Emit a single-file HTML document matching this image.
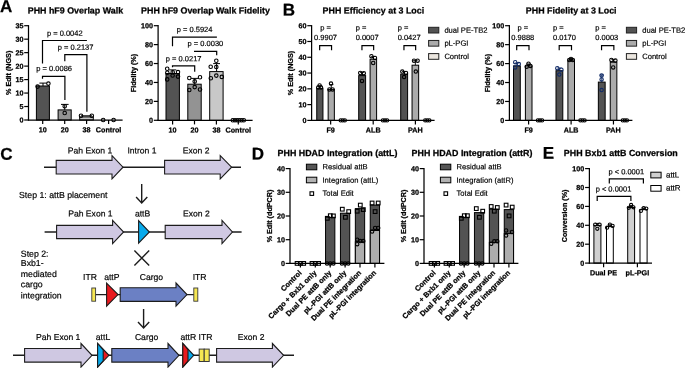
<!DOCTYPE html>
<html><head><meta charset="utf-8"><title>Figure</title>
<style>html,body{margin:0;padding:0;background:#fff}svg{display:block;font-family:"Liberation Sans",sans-serif}</style></head>
<body><svg width="685" height="368" viewBox="0 0 685 368" style="font-family:&quot;Liberation Sans&quot;,sans-serif">
<rect width="685" height="368" fill="#fff"/>
<text x="0.1" y="12" font-size="17" font-weight="bold" stroke="#000" stroke-width="0.25" text-anchor="start" fill="#000" transform="rotate(0.03 0.1 12)">A</text>
<text x="282.7" y="15.5" font-size="17" font-weight="bold" stroke="#000" stroke-width="0.25" text-anchor="start" fill="#000" transform="rotate(0.03 282.7 15.5)">B</text>
<text x="0.2" y="159.8" font-size="17" font-weight="bold" stroke="#000" stroke-width="0.25" text-anchor="start" fill="#000" transform="rotate(0.03 0.2 159.8)">C</text>
<text x="251.7" y="159.5" font-size="17" font-weight="bold" stroke="#000" stroke-width="0.25" text-anchor="start" fill="#000" transform="rotate(0.03 251.7 159.5)">D</text>
<text x="542.7" y="158.8" font-size="17" font-weight="bold" stroke="#000" stroke-width="0.25" text-anchor="start" fill="#000" transform="rotate(0.03 542.7 158.8)">E</text>
<text x="75.4" y="13.5" font-size="8.9" font-weight="bold" stroke="#000" stroke-width="0.25" text-anchor="middle" fill="#000" transform="rotate(0.03 75.4 13.5)">PHH hF9 Overlap Walk</text>
<rect x="36.4" y="86" width="13.0" height="34" fill="#535353" stroke="#000" stroke-width="1.0"/>
<rect x="58.1" y="109.9" width="13.100000000000001" height="10.1" fill="#939393" stroke="#000" stroke-width="1.0"/>
<rect x="79.7" y="116.9" width="13.599999999999994" height="3.1" fill="#c4c4c4" stroke="#000" stroke-width="1.0"/>
<line x1="39.4" y1="83.1" x2="46.6" y2="83.1" stroke="#000" stroke-width="1.0" stroke-linecap="butt"/>
<line x1="43" y1="83.1" x2="43" y2="86" stroke="#000" stroke-width="1.0" stroke-linecap="butt"/>
<line x1="61" y1="104.4" x2="68.6" y2="104.4" stroke="#000" stroke-width="1.0" stroke-linecap="butt"/>
<line x1="64.7" y1="104.4" x2="64.7" y2="109.8" stroke="#000" stroke-width="1.0" stroke-linecap="butt"/>
<circle cx="37.6" cy="86.6" r="1.75" fill="none" stroke="#000" stroke-width="1.1"/>
<circle cx="48.4" cy="83.6" r="1.75" fill="none" stroke="#000" stroke-width="1.1"/>
<circle cx="64.7" cy="106.2" r="1.75" fill="none" stroke="#000" stroke-width="1.1"/>
<circle cx="64.7" cy="113" r="1.75" fill="none" stroke="#000" stroke-width="1.1"/>
<line x1="81" y1="115.8" x2="92" y2="115.8" stroke="#000" stroke-width="1.0" stroke-linecap="butt"/>
<circle cx="81" cy="115.8" r="1.75" fill="none" stroke="#000" stroke-width="1.1"/>
<circle cx="91.8" cy="115.7" r="1.75" fill="none" stroke="#000" stroke-width="1.1"/>
<circle cx="103.2" cy="120" r="1.75" fill="none" stroke="#000" stroke-width="1.1"/>
<circle cx="113.6" cy="120" r="1.75" fill="none" stroke="#000" stroke-width="1.1"/>
<line x1="28.5" y1="25.099999999999998" x2="28.5" y2="120.6" stroke="#000" stroke-width="1.25" stroke-linecap="butt"/>
<line x1="27.9" y1="120" x2="122.6" y2="120" stroke="#000" stroke-width="1.25" stroke-linecap="butt"/>
<line x1="24.200000000000003" y1="25.7" x2="28.5" y2="25.7" stroke="#000" stroke-width="1.2" stroke-linecap="butt"/>
<text x="23.400000000000002" y="28.25" font-size="7.2" font-weight="bold" stroke="#000" stroke-width="0.25" text-anchor="end" fill="#000" transform="rotate(0.03 23.400000000000002 28.25)">35</text>
<line x1="24.200000000000003" y1="39.17142857142857" x2="28.5" y2="39.17142857142857" stroke="#000" stroke-width="1.2" stroke-linecap="butt"/>
<text x="23.400000000000002" y="41.72" font-size="7.2" font-weight="bold" stroke="#000" stroke-width="0.25" text-anchor="end" fill="#000" transform="rotate(0.03 23.400000000000002 41.72)">30</text>
<line x1="24.200000000000003" y1="52.64285714285714" x2="28.5" y2="52.64285714285714" stroke="#000" stroke-width="1.2" stroke-linecap="butt"/>
<text x="23.400000000000002" y="55.19" font-size="7.2" font-weight="bold" stroke="#000" stroke-width="0.25" text-anchor="end" fill="#000" transform="rotate(0.03 23.400000000000002 55.19)">25</text>
<line x1="24.200000000000003" y1="66.11428571428571" x2="28.5" y2="66.11428571428571" stroke="#000" stroke-width="1.2" stroke-linecap="butt"/>
<text x="23.400000000000002" y="68.66" font-size="7.2" font-weight="bold" stroke="#000" stroke-width="0.25" text-anchor="end" fill="#000" transform="rotate(0.03 23.400000000000002 68.66)">20</text>
<line x1="24.200000000000003" y1="79.58571428571429" x2="28.5" y2="79.58571428571429" stroke="#000" stroke-width="1.2" stroke-linecap="butt"/>
<text x="23.400000000000002" y="82.14" font-size="7.2" font-weight="bold" stroke="#000" stroke-width="0.25" text-anchor="end" fill="#000" transform="rotate(0.03 23.400000000000002 82.14)">15</text>
<line x1="24.200000000000003" y1="93.05714285714286" x2="28.5" y2="93.05714285714286" stroke="#000" stroke-width="1.2" stroke-linecap="butt"/>
<text x="23.400000000000002" y="95.61" font-size="7.2" font-weight="bold" stroke="#000" stroke-width="0.25" text-anchor="end" fill="#000" transform="rotate(0.03 23.400000000000002 95.61)">10</text>
<line x1="24.200000000000003" y1="106.52857142857142" x2="28.5" y2="106.52857142857142" stroke="#000" stroke-width="1.2" stroke-linecap="butt"/>
<text x="23.400000000000002" y="109.08" font-size="7.2" font-weight="bold" stroke="#000" stroke-width="0.25" text-anchor="end" fill="#000" transform="rotate(0.03 23.400000000000002 109.08)">5</text>
<line x1="24.200000000000003" y1="120.0" x2="28.5" y2="120.0" stroke="#000" stroke-width="1.2" stroke-linecap="butt"/>
<text x="23.400000000000002" y="122.55" font-size="7.2" font-weight="bold" stroke="#000" stroke-width="0.25" text-anchor="end" fill="#000" transform="rotate(0.03 23.400000000000002 122.55)">0</text>
<text x="10.6" y="72.85" font-size="7.2" font-weight="bold" stroke="#000" stroke-width="0.25" text-anchor="middle" fill="#000" transform="rotate(-90 10.6 72.85)">% Edit (NGS)</text>
<line x1="42.7" y1="120" x2="42.7" y2="124.1" stroke="#000" stroke-width="1.2" stroke-linecap="butt"/>
<text x="42.7" y="132.3" font-size="7.2" font-weight="bold" stroke="#000" stroke-width="0.25" text-anchor="middle" fill="#000" transform="rotate(0.03 42.7 132.3)">10</text>
<line x1="64.7" y1="120" x2="64.7" y2="124.1" stroke="#000" stroke-width="1.2" stroke-linecap="butt"/>
<text x="64.7" y="132.3" font-size="7.2" font-weight="bold" stroke="#000" stroke-width="0.25" text-anchor="middle" fill="#000" transform="rotate(0.03 64.7 132.3)">20</text>
<line x1="86.6" y1="120" x2="86.6" y2="124.1" stroke="#000" stroke-width="1.2" stroke-linecap="butt"/>
<text x="86.6" y="132.3" font-size="7.2" font-weight="bold" stroke="#000" stroke-width="0.25" text-anchor="middle" fill="#000" transform="rotate(0.03 86.6 132.3)">38</text>
<line x1="108.6" y1="120" x2="108.6" y2="124.1" stroke="#000" stroke-width="1.2" stroke-linecap="butt"/>
<text x="108.6" y="132.3" font-size="7.2" font-weight="bold" stroke="#000" stroke-width="0.25" text-anchor="middle" fill="#000" transform="rotate(0.03 108.6 132.3)">Control</text>
<text x="64.8" y="35.7" font-size="7.5" stroke="#000" stroke-width="0.18" text-anchor="middle" fill="#000" transform="rotate(0.03 64.8 35.7)">p = 0.0042</text>
<text x="75.6" y="49.7" font-size="7.5" stroke="#000" stroke-width="0.18" text-anchor="middle" fill="#000" transform="rotate(0.03 75.6 49.7)">p = 0.2137</text>
<text x="54.2" y="71.1" font-size="7.5" stroke="#000" stroke-width="0.18" text-anchor="middle" fill="#000" transform="rotate(0.03 54.2 71.1)">p = 0.0086</text>
<path d="M42.5,63.4 V40.5 H86.9" stroke="#000" stroke-width="1.2" fill="none" stroke-linejoin="miter"/>
<path d="M64.8,61.3 V54.7 H86.9 V111.8" stroke="#000" stroke-width="1.2" fill="none" stroke-linejoin="miter"/>
<path d="M42.5,78.8 V76.4 H64.9 V100" stroke="#000" stroke-width="1.2" fill="none" stroke-linejoin="miter"/>
<text x="205.5" y="13.5" font-size="8.9" font-weight="bold" stroke="#000" stroke-width="0.25" text-anchor="middle" fill="#000" transform="rotate(0.03 205.5 13.5)">PHH hF9 Overlap Walk Fidelity</text>
<rect x="166" y="73.5" width="13.400000000000006" height="46.8" fill="#535353" stroke="#000" stroke-width="1.0"/>
<rect x="187.8" y="84.2" width="13.399999999999977" height="36.1" fill="#939393" stroke="#000" stroke-width="1.0"/>
<rect x="209.7" y="71.6" width="13.400000000000006" height="48.7" fill="#c8c8c8" stroke="#000" stroke-width="1.0"/>
<line x1="172.7" y1="69.9" x2="172.7" y2="73.5" stroke="#000" stroke-width="1.0" stroke-linecap="butt"/>
<line x1="169.1" y1="69.9" x2="176.29999999999998" y2="69.9" stroke="#000" stroke-width="1.0" stroke-linecap="butt"/>
<line x1="194.7" y1="78.4" x2="194.7" y2="84.2" stroke="#000" stroke-width="1.0" stroke-linecap="butt"/>
<line x1="191.1" y1="78.4" x2="198.29999999999998" y2="78.4" stroke="#000" stroke-width="1.0" stroke-linecap="butt"/>
<line x1="216.6" y1="63.6" x2="216.6" y2="71.6" stroke="#000" stroke-width="1.0" stroke-linecap="butt"/>
<line x1="213.2" y1="63.6" x2="220.0" y2="63.6" stroke="#000" stroke-width="1.0" stroke-linecap="butt"/>
<circle cx="167.2" cy="68.8" r="1.75" fill="none" stroke="#000" stroke-width="1.1"/>
<circle cx="167.3" cy="72.8" r="1.75" fill="none" stroke="#000" stroke-width="1.1"/>
<circle cx="172.7" cy="72.3" r="1.75" fill="none" stroke="#000" stroke-width="1.1"/>
<circle cx="178" cy="72.1" r="1.75" fill="none" stroke="#000" stroke-width="1.1"/>
<circle cx="172.6" cy="75.5" r="1.75" fill="none" stroke="#000" stroke-width="1.1"/>
<circle cx="178" cy="76.6" r="1.75" fill="none" stroke="#000" stroke-width="1.1"/>
<circle cx="167.2" cy="79.4" r="1.75" fill="none" stroke="#000" stroke-width="1.1"/>
<circle cx="189.3" cy="78" r="1.75" fill="none" stroke="#000" stroke-width="1.1"/>
<circle cx="200" cy="77.3" r="1.75" fill="none" stroke="#000" stroke-width="1.1"/>
<circle cx="194.7" cy="81.4" r="1.75" fill="none" stroke="#000" stroke-width="1.1"/>
<circle cx="194.7" cy="87.1" r="1.75" fill="none" stroke="#000" stroke-width="1.1"/>
<circle cx="189.3" cy="90" r="1.75" fill="none" stroke="#000" stroke-width="1.1"/>
<circle cx="200" cy="89.5" r="1.75" fill="none" stroke="#000" stroke-width="1.1"/>
<circle cx="216.3" cy="60.8" r="1.75" fill="none" stroke="#000" stroke-width="1.1"/>
<circle cx="210.7" cy="66.7" r="1.75" fill="none" stroke="#000" stroke-width="1.1"/>
<circle cx="216.3" cy="67" r="1.75" fill="none" stroke="#000" stroke-width="1.1"/>
<circle cx="210.8" cy="78.2" r="1.75" fill="none" stroke="#000" stroke-width="1.1"/>
<circle cx="216.3" cy="75.6" r="1.75" fill="none" stroke="#000" stroke-width="1.1"/>
<circle cx="221.8" cy="76.9" r="1.75" fill="none" stroke="#000" stroke-width="1.1"/>
<circle cx="232.8" cy="120.3" r="1.75" fill="none" stroke="#000" stroke-width="1.1"/>
<circle cx="235" cy="120.3" r="1.75" fill="none" stroke="#000" stroke-width="1.1"/>
<circle cx="237.2" cy="120.3" r="1.75" fill="none" stroke="#000" stroke-width="1.1"/>
<circle cx="239.4" cy="120.3" r="1.75" fill="none" stroke="#000" stroke-width="1.1"/>
<circle cx="241.6" cy="120.3" r="1.75" fill="none" stroke="#000" stroke-width="1.1"/>
<circle cx="243.8" cy="120.3" r="1.75" fill="none" stroke="#000" stroke-width="1.1"/>
<line x1="158.1" y1="25.099999999999998" x2="158.1" y2="120.89999999999999" stroke="#000" stroke-width="1.25" stroke-linecap="butt"/>
<line x1="157.5" y1="120.3" x2="252.6" y2="120.3" stroke="#000" stroke-width="1.25" stroke-linecap="butt"/>
<line x1="153.79999999999998" y1="25.7" x2="158.1" y2="25.7" stroke="#000" stroke-width="1.2" stroke-linecap="butt"/>
<text x="153.0" y="28.25" font-size="7.2" font-weight="bold" stroke="#000" stroke-width="0.25" text-anchor="end" fill="#000" transform="rotate(0.03 153.0 28.25)">100</text>
<line x1="153.79999999999998" y1="44.62" x2="158.1" y2="44.62" stroke="#000" stroke-width="1.2" stroke-linecap="butt"/>
<text x="153.0" y="47.17" font-size="7.2" font-weight="bold" stroke="#000" stroke-width="0.25" text-anchor="end" fill="#000" transform="rotate(0.03 153.0 47.17)">80</text>
<line x1="153.79999999999998" y1="63.53999999999999" x2="158.1" y2="63.53999999999999" stroke="#000" stroke-width="1.2" stroke-linecap="butt"/>
<text x="153.0" y="66.09" font-size="7.2" font-weight="bold" stroke="#000" stroke-width="0.25" text-anchor="end" fill="#000" transform="rotate(0.03 153.0 66.09)">60</text>
<line x1="153.79999999999998" y1="82.46" x2="158.1" y2="82.46" stroke="#000" stroke-width="1.2" stroke-linecap="butt"/>
<text x="153.0" y="85.01" font-size="7.2" font-weight="bold" stroke="#000" stroke-width="0.25" text-anchor="end" fill="#000" transform="rotate(0.03 153.0 85.01)">40</text>
<line x1="153.79999999999998" y1="101.38" x2="158.1" y2="101.38" stroke="#000" stroke-width="1.2" stroke-linecap="butt"/>
<text x="153.0" y="103.93" font-size="7.2" font-weight="bold" stroke="#000" stroke-width="0.25" text-anchor="end" fill="#000" transform="rotate(0.03 153.0 103.93)">20</text>
<line x1="153.79999999999998" y1="120.3" x2="158.1" y2="120.3" stroke="#000" stroke-width="1.2" stroke-linecap="butt"/>
<text x="153.0" y="122.85" font-size="7.2" font-weight="bold" stroke="#000" stroke-width="0.25" text-anchor="end" fill="#000" transform="rotate(0.03 153.0 122.85)">0</text>
<text x="136.2" y="73.0" font-size="7.2" font-weight="bold" stroke="#000" stroke-width="0.25" text-anchor="middle" fill="#000" transform="rotate(-90 136.2 73.0)">Fidelity (%)</text>
<line x1="172.6" y1="120.3" x2="172.6" y2="124.39999999999999" stroke="#000" stroke-width="1.2" stroke-linecap="butt"/>
<text x="172.6" y="132.5" font-size="7.2" font-weight="bold" stroke="#000" stroke-width="0.25" text-anchor="middle" fill="#000" transform="rotate(0.03 172.6 132.5)">10</text>
<line x1="194.5" y1="120.3" x2="194.5" y2="124.39999999999999" stroke="#000" stroke-width="1.2" stroke-linecap="butt"/>
<text x="194.5" y="132.5" font-size="7.2" font-weight="bold" stroke="#000" stroke-width="0.25" text-anchor="middle" fill="#000" transform="rotate(0.03 194.5 132.5)">20</text>
<line x1="216.4" y1="120.3" x2="216.4" y2="124.39999999999999" stroke="#000" stroke-width="1.2" stroke-linecap="butt"/>
<text x="216.4" y="132.5" font-size="7.2" font-weight="bold" stroke="#000" stroke-width="0.25" text-anchor="middle" fill="#000" transform="rotate(0.03 216.4 132.5)">38</text>
<line x1="238.3" y1="120.3" x2="238.3" y2="124.39999999999999" stroke="#000" stroke-width="1.2" stroke-linecap="butt"/>
<text x="238.3" y="132.5" font-size="7.2" font-weight="bold" stroke="#000" stroke-width="0.25" text-anchor="middle" fill="#000" transform="rotate(0.03 238.3 132.5)">Control</text>
<text x="194.6" y="32" font-size="7.5" stroke="#000" stroke-width="0.18" text-anchor="middle" fill="#000" transform="rotate(0.03 194.6 32)">p = 0.5924</text>
<text x="205.4" y="46" font-size="7.5" stroke="#000" stroke-width="0.18" text-anchor="middle" fill="#000" transform="rotate(0.03 205.4 46)">p = 0.0030</text>
<text x="183.7" y="61.3" font-size="7.5" stroke="#000" stroke-width="0.18" text-anchor="middle" fill="#000" transform="rotate(0.03 183.7 61.3)">p = 0.0217</text>
<path d="M172.5,46.3 V37.1 H216.9" stroke="#000" stroke-width="1.2" fill="none" stroke-linejoin="miter"/>
<path d="M194,51.3 H216.7 V55.3" stroke="#000" stroke-width="1.2" fill="none" stroke-linejoin="miter"/>
<path d="M172.5,67.2 V65.9 H194.7 V71.8" stroke="#000" stroke-width="1.2" fill="none" stroke-linejoin="miter"/>
<text x="373.4" y="13.5" font-size="8.9" font-weight="bold" stroke="#000" stroke-width="0.25" text-anchor="middle" fill="#000" transform="rotate(0.03 373.4 13.5)">PHH Efficiency at 3 Loci</text>
<line x1="319.85" y1="85.8" x2="319.85" y2="88.4" stroke="#000" stroke-width="0.9" stroke-linecap="butt"/>
<line x1="317.65000000000003" y1="85.8" x2="322.05" y2="85.8" stroke="#000" stroke-width="0.9" stroke-linecap="butt"/>
<line x1="331.25" y1="84.6" x2="331.25" y2="89.4" stroke="#000" stroke-width="0.9" stroke-linecap="butt"/>
<line x1="329.05" y1="84.6" x2="333.45" y2="84.6" stroke="#000" stroke-width="0.9" stroke-linecap="butt"/>
<rect x="316.75" y="88.4" width="6.199999999999989" height="32.0" fill="#535353" stroke="#000" stroke-width="1.0"/>
<rect x="328.15" y="89.4" width="6.199999999999989" height="31.0" fill="#ababab" stroke="#000" stroke-width="1.0"/>
<circle cx="318.2" cy="87.6" r="1.7" fill="none" stroke="#000" stroke-width="1.1"/>
<circle cx="319.6" cy="85.4" r="1.7" fill="none" stroke="#000" stroke-width="1.1"/>
<circle cx="321" cy="87.4" r="1.7" fill="none" stroke="#000" stroke-width="1.1"/>
<circle cx="331" cy="83.6" r="1.7" fill="none" stroke="#000" stroke-width="1.1"/>
<circle cx="329.4" cy="89.4" r="1.7" fill="none" stroke="#000" stroke-width="1.1"/>
<circle cx="332.6" cy="89.4" r="1.7" fill="none" stroke="#000" stroke-width="1.1"/>
<circle cx="340.65" cy="120.4" r="1.6" fill="none" stroke="#000" stroke-width="1.1"/>
<circle cx="342.75" cy="120.4" r="1.6" fill="none" stroke="#000" stroke-width="1.1"/>
<circle cx="344.85" cy="120.4" r="1.6" fill="none" stroke="#000" stroke-width="1.1"/>
<line x1="330.65" y1="120.4" x2="330.65" y2="124.5" stroke="#000" stroke-width="1.2" stroke-linecap="butt"/>
<text x="330.65" y="132.5" font-size="7.2" font-weight="bold" stroke="#000" stroke-width="0.25" text-anchor="middle" fill="#000" transform="rotate(0.03 330.65 132.5)">F9</text>
<text x="325.55" y="30.3" font-size="7.5" stroke="#000" stroke-width="0.18" text-anchor="middle" fill="#000" transform="rotate(0.03 325.55 30.3)">p =</text>
<text x="325.55" y="40" font-size="7.5" stroke="#000" stroke-width="0.18" text-anchor="middle" fill="#000" transform="rotate(0.03 325.55 40)">0.9907</text>
<path d="M319.65,50.2 V45.7 H331.55 V50.2" stroke="#000" stroke-width="1.2" fill="none" stroke-linejoin="miter"/>
<line x1="362.15" y1="72.4" x2="362.15" y2="75.6" stroke="#000" stroke-width="0.9" stroke-linecap="butt"/>
<line x1="359.95" y1="72.4" x2="364.34999999999997" y2="72.4" stroke="#000" stroke-width="0.9" stroke-linecap="butt"/>
<line x1="373.34999999999997" y1="56.4" x2="373.34999999999997" y2="59.2" stroke="#000" stroke-width="0.9" stroke-linecap="butt"/>
<line x1="371.15" y1="56.4" x2="375.54999999999995" y2="56.4" stroke="#000" stroke-width="0.9" stroke-linecap="butt"/>
<rect x="358.7" y="75.6" width="6.899999999999977" height="44.8" fill="#535353" stroke="#000" stroke-width="1.0"/>
<rect x="370.09999999999997" y="59.2" width="6.5" height="61.2" fill="#ababab" stroke="#000" stroke-width="1.0"/>
<circle cx="360.2" cy="73" r="1.7" fill="none" stroke="#000" stroke-width="1.1"/>
<circle cx="363.8" cy="73.2" r="1.7" fill="none" stroke="#000" stroke-width="1.1"/>
<circle cx="362" cy="80.9" r="1.7" fill="none" stroke="#000" stroke-width="1.1"/>
<circle cx="371.4" cy="56.2" r="1.7" fill="none" stroke="#000" stroke-width="1.1"/>
<circle cx="375" cy="58" r="1.7" fill="none" stroke="#000" stroke-width="1.1"/>
<circle cx="373.2" cy="63" r="1.7" fill="none" stroke="#000" stroke-width="1.1"/>
<circle cx="382.9" cy="120.4" r="1.6" fill="none" stroke="#000" stroke-width="1.1"/>
<circle cx="385.0" cy="120.4" r="1.6" fill="none" stroke="#000" stroke-width="1.1"/>
<circle cx="387.1" cy="120.4" r="1.6" fill="none" stroke="#000" stroke-width="1.1"/>
<line x1="373.2" y1="120.4" x2="373.2" y2="124.5" stroke="#000" stroke-width="1.2" stroke-linecap="butt"/>
<text x="373.2" y="132.5" font-size="7.2" font-weight="bold" stroke="#000" stroke-width="0.25" text-anchor="middle" fill="#000" transform="rotate(0.03 373.2 132.5)">ALB</text>
<text x="355.7" y="30.3" font-size="7.5" stroke="#000" stroke-width="0.18" text-anchor="start" fill="#000" transform="rotate(0.03 355.7 30.3)">p =</text>
<text x="355.7" y="40" font-size="7.5" stroke="#000" stroke-width="0.18" text-anchor="start" fill="#000" transform="rotate(0.03 355.7 40)">0.0007</text>
<path d="M361.95,50.2 V45.7 H373.65 V50.2" stroke="#000" stroke-width="1.2" fill="none" stroke-linejoin="miter"/>
<line x1="404.15" y1="71.6" x2="404.15" y2="74.1" stroke="#000" stroke-width="0.9" stroke-linecap="butt"/>
<line x1="401.95" y1="71.6" x2="406.34999999999997" y2="71.6" stroke="#000" stroke-width="0.9" stroke-linecap="butt"/>
<line x1="415.35" y1="60.6" x2="415.35" y2="65.2" stroke="#000" stroke-width="0.9" stroke-linecap="butt"/>
<line x1="413.15000000000003" y1="60.6" x2="417.55" y2="60.6" stroke="#000" stroke-width="0.9" stroke-linecap="butt"/>
<rect x="400.7" y="74.1" width="6.899999999999977" height="46.3" fill="#535353" stroke="#000" stroke-width="1.0"/>
<rect x="412.05" y="65.2" width="6.600000000000023" height="55.2" fill="#ababab" stroke="#000" stroke-width="1.0"/>
<circle cx="402.3" cy="71.6" r="1.7" fill="none" stroke="#000" stroke-width="1.1"/>
<circle cx="406" cy="73" r="1.7" fill="none" stroke="#000" stroke-width="1.1"/>
<circle cx="404.1" cy="77.1" r="1.7" fill="none" stroke="#000" stroke-width="1.1"/>
<circle cx="414" cy="60.7" r="1.7" fill="none" stroke="#000" stroke-width="1.1"/>
<circle cx="417.6" cy="60.7" r="1.7" fill="none" stroke="#000" stroke-width="1.1"/>
<circle cx="415.8" cy="71.6" r="1.7" fill="none" stroke="#000" stroke-width="1.1"/>
<circle cx="425.2" cy="120.4" r="1.6" fill="none" stroke="#000" stroke-width="1.1"/>
<circle cx="427.3" cy="120.4" r="1.6" fill="none" stroke="#000" stroke-width="1.1"/>
<circle cx="429.40000000000003" cy="120.4" r="1.6" fill="none" stroke="#000" stroke-width="1.1"/>
<line x1="415.4" y1="120.4" x2="415.4" y2="124.5" stroke="#000" stroke-width="1.2" stroke-linecap="butt"/>
<text x="415.4" y="132.5" font-size="7.2" font-weight="bold" stroke="#000" stroke-width="0.25" text-anchor="middle" fill="#000" transform="rotate(0.03 415.4 132.5)">PAH</text>
<text x="397.7" y="30.3" font-size="7.5" stroke="#000" stroke-width="0.18" text-anchor="start" fill="#000" transform="rotate(0.03 397.7 30.3)">p =</text>
<text x="397.7" y="40" font-size="7.5" stroke="#000" stroke-width="0.18" text-anchor="start" fill="#000" transform="rotate(0.03 397.7 40)">0.0427</text>
<path d="M403.95,50.2 V45.7 H415.65 V50.2" stroke="#000" stroke-width="1.2" fill="none" stroke-linejoin="miter"/>
<line x1="311.6" y1="25.099999999999998" x2="311.6" y2="121.0" stroke="#000" stroke-width="1.25" stroke-linecap="butt"/>
<line x1="311.0" y1="120.4" x2="434.6" y2="120.4" stroke="#000" stroke-width="1.25" stroke-linecap="butt"/>
<line x1="307.30000000000007" y1="25.7" x2="311.6" y2="25.7" stroke="#000" stroke-width="1.2" stroke-linecap="butt"/>
<text x="306.50000000000006" y="28.25" font-size="7.2" font-weight="bold" stroke="#000" stroke-width="0.25" text-anchor="end" fill="#000" transform="rotate(0.03 306.50000000000006 28.25)">60</text>
<line x1="307.30000000000007" y1="41.483333333333334" x2="311.6" y2="41.483333333333334" stroke="#000" stroke-width="1.2" stroke-linecap="butt"/>
<text x="306.50000000000006" y="44.03" font-size="7.2" font-weight="bold" stroke="#000" stroke-width="0.25" text-anchor="end" fill="#000" transform="rotate(0.03 306.50000000000006 44.03)">50</text>
<line x1="307.30000000000007" y1="57.266666666666666" x2="311.6" y2="57.266666666666666" stroke="#000" stroke-width="1.2" stroke-linecap="butt"/>
<text x="306.50000000000006" y="59.82" font-size="7.2" font-weight="bold" stroke="#000" stroke-width="0.25" text-anchor="end" fill="#000" transform="rotate(0.03 306.50000000000006 59.82)">40</text>
<line x1="307.30000000000007" y1="73.05" x2="311.6" y2="73.05" stroke="#000" stroke-width="1.2" stroke-linecap="butt"/>
<text x="306.50000000000006" y="75.6" font-size="7.2" font-weight="bold" stroke="#000" stroke-width="0.25" text-anchor="end" fill="#000" transform="rotate(0.03 306.50000000000006 75.6)">30</text>
<line x1="307.30000000000007" y1="88.83333333333333" x2="311.6" y2="88.83333333333333" stroke="#000" stroke-width="1.2" stroke-linecap="butt"/>
<text x="306.50000000000006" y="91.38" font-size="7.2" font-weight="bold" stroke="#000" stroke-width="0.25" text-anchor="end" fill="#000" transform="rotate(0.03 306.50000000000006 91.38)">20</text>
<line x1="307.30000000000007" y1="104.61666666666667" x2="311.6" y2="104.61666666666667" stroke="#000" stroke-width="1.2" stroke-linecap="butt"/>
<text x="306.50000000000006" y="107.17" font-size="7.2" font-weight="bold" stroke="#000" stroke-width="0.25" text-anchor="end" fill="#000" transform="rotate(0.03 306.50000000000006 107.17)">10</text>
<line x1="307.30000000000007" y1="120.4" x2="311.6" y2="120.4" stroke="#000" stroke-width="1.2" stroke-linecap="butt"/>
<text x="306.50000000000006" y="122.95" font-size="7.2" font-weight="bold" stroke="#000" stroke-width="0.25" text-anchor="end" fill="#000" transform="rotate(0.03 306.50000000000006 122.95)">0</text>
<text x="293.2" y="73.05" font-size="7.2" font-weight="bold" stroke="#000" stroke-width="0.25" text-anchor="middle" fill="#000" transform="rotate(-90 293.2 73.05)">% Edit (NGS)</text>
<rect x="428.6" y="27.3" width="10.2" height="5.7" fill="#535353" stroke="#222" stroke-width="1.0"/>
<text x="444.40000000000003" y="32.7" font-size="7.6" stroke="#000" stroke-width="0.18" text-anchor="start" fill="#000" transform="rotate(0.03 444.40000000000003 32.7)">dual PE-TB2</text>
<rect x="428.6" y="40.45" width="10.2" height="5.7" fill="#ababab" stroke="#222" stroke-width="1.0"/>
<text x="444.40000000000003" y="45.85" font-size="7.6" stroke="#000" stroke-width="0.18" text-anchor="start" fill="#000" transform="rotate(0.03 444.40000000000003 45.85)">pL-PGI</text>
<rect x="428.6" y="53.6" width="10.2" height="5.7" fill="#ebe6df" stroke="#222" stroke-width="1.0"/>
<text x="444.40000000000003" y="59.0" font-size="7.6" stroke="#000" stroke-width="0.18" text-anchor="start" fill="#000" transform="rotate(0.03 444.40000000000003 59.0)">Control</text>
<text x="571.2" y="13.5" font-size="8.9" font-weight="bold" stroke="#000" stroke-width="0.25" text-anchor="middle" fill="#000" transform="rotate(0.03 571.2 13.5)">PHH Fidelity at 3 Loci</text>
<line x1="516.9" y1="63" x2="516.9" y2="65.9" stroke="#102a66" stroke-width="0.9" stroke-linecap="butt"/>
<line x1="514.6999999999999" y1="63" x2="519.1" y2="63" stroke="#102a66" stroke-width="0.9" stroke-linecap="butt"/>
<line x1="528.6999999999999" y1="64" x2="528.6999999999999" y2="65.9" stroke="#000" stroke-width="0.9" stroke-linecap="butt"/>
<line x1="526.4999999999999" y1="64" x2="530.9" y2="64" stroke="#000" stroke-width="0.9" stroke-linecap="butt"/>
<rect x="513.5" y="65.9" width="6.7999999999999545" height="54.5" fill="#535353" stroke="#000" stroke-width="1.0"/>
<rect x="525.4" y="65.9" width="6.600000000000023" height="54.5" fill="#ababab" stroke="#000" stroke-width="1.0"/>
<circle cx="515.2" cy="62.2" r="1.7" fill="none" stroke="#102a66" stroke-width="1.1"/>
<circle cx="518.8" cy="64.1" r="1.7" fill="none" stroke="#102a66" stroke-width="1.1"/>
<circle cx="515.2" cy="67.4" r="1.7" fill="none" stroke="#102a66" stroke-width="1.1"/>
<circle cx="528.5" cy="63.7" r="1.7" fill="none" stroke="#000" stroke-width="1.1"/>
<circle cx="526.7" cy="66.7" r="1.7" fill="none" stroke="#000" stroke-width="1.1"/>
<circle cx="530.4" cy="65.9" r="1.7" fill="none" stroke="#000" stroke-width="1.1"/>
<circle cx="537.9" cy="120.4" r="1.6" fill="none" stroke="#000" stroke-width="1.1"/>
<circle cx="540.0" cy="120.4" r="1.6" fill="none" stroke="#000" stroke-width="1.1"/>
<circle cx="542.1" cy="120.4" r="1.6" fill="none" stroke="#000" stroke-width="1.1"/>
<line x1="528.6" y1="120.4" x2="528.6" y2="124.5" stroke="#000" stroke-width="1.2" stroke-linecap="butt"/>
<text x="528.6" y="132.5" font-size="7.2" font-weight="bold" stroke="#000" stroke-width="0.25" text-anchor="middle" fill="#000" transform="rotate(0.03 528.6 132.5)">F9</text>
<text x="522.8" y="30.3" font-size="7.5" stroke="#000" stroke-width="0.18" text-anchor="middle" fill="#000" transform="rotate(0.03 522.8 30.3)">p =</text>
<text x="522.8" y="40" font-size="7.5" stroke="#000" stroke-width="0.18" text-anchor="middle" fill="#000" transform="rotate(0.03 522.8 40)">0.9888</text>
<path d="M516.7,50.2 V45.7 H529.0 V50.2" stroke="#000" stroke-width="1.2" fill="none" stroke-linejoin="miter"/>
<line x1="559.4" y1="68" x2="559.4" y2="70.7" stroke="#102a66" stroke-width="0.9" stroke-linecap="butt"/>
<line x1="557.1999999999999" y1="68" x2="561.6" y2="68" stroke="#102a66" stroke-width="0.9" stroke-linecap="butt"/>
<line x1="571.1999999999999" y1="59" x2="571.1999999999999" y2="60" stroke="#000" stroke-width="0.9" stroke-linecap="butt"/>
<line x1="568.9999999999999" y1="59" x2="573.4" y2="59" stroke="#000" stroke-width="0.9" stroke-linecap="butt"/>
<rect x="556" y="70.7" width="6.7999999999999545" height="49.7" fill="#535353" stroke="#000" stroke-width="1.0"/>
<rect x="567.9" y="60" width="6.600000000000023" height="60.4" fill="#ababab" stroke="#000" stroke-width="1.0"/>
<circle cx="557.3" cy="68.2" r="1.7" fill="none" stroke="#102a66" stroke-width="1.1"/>
<circle cx="561.4" cy="69.7" r="1.7" fill="none" stroke="#102a66" stroke-width="1.1"/>
<circle cx="559.3" cy="74.6" r="1.7" fill="none" stroke="#102a66" stroke-width="1.1"/>
<circle cx="569.3" cy="60" r="1.7" fill="none" stroke="#000" stroke-width="1.1"/>
<circle cx="571" cy="59" r="1.7" fill="none" stroke="#000" stroke-width="1.1"/>
<circle cx="572.8" cy="60" r="1.7" fill="none" stroke="#000" stroke-width="1.1"/>
<circle cx="580.4" cy="120.4" r="1.6" fill="none" stroke="#000" stroke-width="1.1"/>
<circle cx="582.5" cy="120.4" r="1.6" fill="none" stroke="#000" stroke-width="1.1"/>
<circle cx="584.6" cy="120.4" r="1.6" fill="none" stroke="#000" stroke-width="1.1"/>
<line x1="571.1" y1="120.4" x2="571.1" y2="124.5" stroke="#000" stroke-width="1.2" stroke-linecap="butt"/>
<text x="571.1" y="132.5" font-size="7.2" font-weight="bold" stroke="#000" stroke-width="0.25" text-anchor="middle" fill="#000" transform="rotate(0.03 571.1 132.5)">ALB</text>
<text x="553" y="30.3" font-size="7.5" stroke="#000" stroke-width="0.18" text-anchor="start" fill="#000" transform="rotate(0.03 553 30.3)">p =</text>
<text x="553" y="40" font-size="7.5" stroke="#000" stroke-width="0.18" text-anchor="start" fill="#000" transform="rotate(0.03 553 40)">0.0170</text>
<path d="M559.2,50.2 V45.7 H571.5 V50.2" stroke="#000" stroke-width="1.2" fill="none" stroke-linejoin="miter"/>
<line x1="601.75" y1="75" x2="601.75" y2="82.1" stroke="#102a66" stroke-width="0.9" stroke-linecap="butt"/>
<line x1="599.55" y1="75" x2="603.95" y2="75" stroke="#102a66" stroke-width="0.9" stroke-linecap="butt"/>
<line x1="613.55" y1="59.6" x2="613.55" y2="62.2" stroke="#000" stroke-width="0.9" stroke-linecap="butt"/>
<line x1="611.3499999999999" y1="59.6" x2="615.75" y2="59.6" stroke="#000" stroke-width="0.9" stroke-linecap="butt"/>
<rect x="598.35" y="82.1" width="6.7999999999999545" height="38.3" fill="#535353" stroke="#000" stroke-width="1.0"/>
<rect x="610.25" y="62.2" width="6.600000000000023" height="58.2" fill="#ababab" stroke="#000" stroke-width="1.0"/>
<circle cx="601.6" cy="75.6" r="1.7" fill="none" stroke="#102a66" stroke-width="1.1"/>
<circle cx="601.6" cy="79.4" r="1.7" fill="none" stroke="#102a66" stroke-width="1.1"/>
<circle cx="601.6" cy="90.1" r="1.7" fill="none" stroke="#102a66" stroke-width="1.1"/>
<circle cx="611.4" cy="60" r="1.7" fill="none" stroke="#000" stroke-width="1.1"/>
<circle cx="615.4" cy="60.4" r="1.7" fill="none" stroke="#000" stroke-width="1.1"/>
<circle cx="613.2" cy="67.4" r="1.7" fill="none" stroke="#000" stroke-width="1.1"/>
<circle cx="622.75" cy="120.4" r="1.6" fill="none" stroke="#000" stroke-width="1.1"/>
<circle cx="624.85" cy="120.4" r="1.6" fill="none" stroke="#000" stroke-width="1.1"/>
<circle cx="626.95" cy="120.4" r="1.6" fill="none" stroke="#000" stroke-width="1.1"/>
<line x1="613.45" y1="120.4" x2="613.45" y2="124.5" stroke="#000" stroke-width="1.2" stroke-linecap="butt"/>
<text x="613.45" y="132.5" font-size="7.2" font-weight="bold" stroke="#000" stroke-width="0.25" text-anchor="middle" fill="#000" transform="rotate(0.03 613.45 132.5)">PAH</text>
<text x="595.35" y="30.3" font-size="7.5" stroke="#000" stroke-width="0.18" text-anchor="start" fill="#000" transform="rotate(0.03 595.35 30.3)">p =</text>
<text x="595.35" y="40" font-size="7.5" stroke="#000" stroke-width="0.18" text-anchor="start" fill="#000" transform="rotate(0.03 595.35 40)">0.0003</text>
<path d="M601.55,50.2 V45.7 H613.85 V50.2" stroke="#000" stroke-width="1.2" fill="none" stroke-linejoin="miter"/>
<line x1="509.4" y1="25.099999999999998" x2="509.4" y2="121.0" stroke="#000" stroke-width="1.25" stroke-linecap="butt"/>
<line x1="508.79999999999995" y1="120.4" x2="632.4" y2="120.4" stroke="#000" stroke-width="1.25" stroke-linecap="butt"/>
<line x1="505.1" y1="25.7" x2="509.4" y2="25.7" stroke="#000" stroke-width="1.2" stroke-linecap="butt"/>
<text x="504.3" y="28.25" font-size="7.2" font-weight="bold" stroke="#000" stroke-width="0.25" text-anchor="end" fill="#000" transform="rotate(0.03 504.3 28.25)">100</text>
<line x1="505.1" y1="44.64" x2="509.4" y2="44.64" stroke="#000" stroke-width="1.2" stroke-linecap="butt"/>
<text x="504.3" y="47.19" font-size="7.2" font-weight="bold" stroke="#000" stroke-width="0.25" text-anchor="end" fill="#000" transform="rotate(0.03 504.3 47.19)">80</text>
<line x1="505.1" y1="63.58" x2="509.4" y2="63.58" stroke="#000" stroke-width="1.2" stroke-linecap="butt"/>
<text x="504.3" y="66.13" font-size="7.2" font-weight="bold" stroke="#000" stroke-width="0.25" text-anchor="end" fill="#000" transform="rotate(0.03 504.3 66.13)">60</text>
<line x1="505.1" y1="82.52000000000001" x2="509.4" y2="82.52000000000001" stroke="#000" stroke-width="1.2" stroke-linecap="butt"/>
<text x="504.3" y="85.07" font-size="7.2" font-weight="bold" stroke="#000" stroke-width="0.25" text-anchor="end" fill="#000" transform="rotate(0.03 504.3 85.07)">40</text>
<line x1="505.1" y1="101.46000000000001" x2="509.4" y2="101.46000000000001" stroke="#000" stroke-width="1.2" stroke-linecap="butt"/>
<text x="504.3" y="104.01" font-size="7.2" font-weight="bold" stroke="#000" stroke-width="0.25" text-anchor="end" fill="#000" transform="rotate(0.03 504.3 104.01)">20</text>
<line x1="505.1" y1="120.4" x2="509.4" y2="120.4" stroke="#000" stroke-width="1.2" stroke-linecap="butt"/>
<text x="504.3" y="122.95" font-size="7.2" font-weight="bold" stroke="#000" stroke-width="0.25" text-anchor="end" fill="#000" transform="rotate(0.03 504.3 122.95)">0</text>
<text x="490.5" y="73.05" font-size="7.2" font-weight="bold" stroke="#000" stroke-width="0.25" text-anchor="middle" fill="#000" transform="rotate(-90 490.5 73.05)">Fidelity (%)</text>
<rect x="626.4" y="27.3" width="10.2" height="5.7" fill="#535353" stroke="#222" stroke-width="1.0"/>
<text x="642.1999999999999" y="32.7" font-size="7.6" stroke="#000" stroke-width="0.18" text-anchor="start" fill="#000" transform="rotate(0.03 642.1999999999999 32.7)">dual PE-TB2</text>
<rect x="626.4" y="40.45" width="10.2" height="5.7" fill="#ababab" stroke="#222" stroke-width="1.0"/>
<text x="642.1999999999999" y="45.85" font-size="7.6" stroke="#000" stroke-width="0.18" text-anchor="start" fill="#000" transform="rotate(0.03 642.1999999999999 45.85)">pL-PGI</text>
<rect x="626.4" y="53.6" width="10.2" height="5.7" fill="#ebe6df" stroke="#222" stroke-width="1.0"/>
<text x="642.1999999999999" y="59.0" font-size="7.6" stroke="#000" stroke-width="0.18" text-anchor="start" fill="#000" transform="rotate(0.03 642.1999999999999 59.0)">Control</text>
<line x1="44" y1="167.2" x2="241" y2="167.2" stroke="#1c1c1c" stroke-width="1.4" stroke-linecap="butt"/>
<path d="M56.2,160.39999999999998 H112 V155.6 L123,167.2 L112,178.79999999999998 V174.0 H56.2 Z" stroke="#1c1c1c" stroke-width="1.1" fill="#cfc8e2" stroke-linejoin="miter"/>
<path d="M164.6,160.39999999999998 H220.2 V155.6 L231.6,167.2 L220.2,178.79999999999998 V174.0 H164.6 Z" stroke="#1c1c1c" stroke-width="1.1" fill="#cfc8e2" stroke-linejoin="miter"/>
<text x="90" y="153.6" font-size="8.6" stroke="#000" stroke-width="0.18" text-anchor="middle" fill="#000" transform="rotate(0.03 90 153.6)">Pah Exon 1</text>
<text x="142" y="153.6" font-size="8.6" stroke="#000" stroke-width="0.18" text-anchor="middle" fill="#000" transform="rotate(0.03 142 153.6)">Intron 1</text>
<text x="196.2" y="153.6" font-size="8.6" stroke="#000" stroke-width="0.18" text-anchor="middle" fill="#000" transform="rotate(0.03 196.2 153.6)">Exon 2</text>
<path d="M141.7,184 V203 M136.1,197 L141.7,203 L147.29999999999998,197" stroke="#1c1c1c" stroke-width="1.4" fill="none" stroke-linejoin="miter"/>
<text x="19" y="198" font-size="8.75" stroke="#000" stroke-width="0.18" text-anchor="start" fill="#000" transform="rotate(0.03 19 198)">Step 1: attB placement</text>
<line x1="44.6" y1="232" x2="241.6" y2="232" stroke="#1c1c1c" stroke-width="1.4" stroke-linecap="butt"/>
<path d="M56.6,225.4 H112.6 V220.4 L123.6,232 L112.6,243.6 V238.6 H56.6 Z" stroke="#1c1c1c" stroke-width="1.1" fill="#cfc8e2" stroke-linejoin="miter"/>
<path d="M165.2,225.4 H222 V220.4 L232.4,232 L222,243.6 V238.6 H165.2 Z" stroke="#1c1c1c" stroke-width="1.1" fill="#cfc8e2" stroke-linejoin="miter"/>
<path d="M138.6,220.6 L149.4,232 L138.6,243.2 Z" stroke="#1c1c1c" stroke-width="1.1" fill="#08aaec" stroke-linejoin="miter"/>
<text x="90.4" y="216.6" font-size="8.6" stroke="#000" stroke-width="0.18" text-anchor="middle" fill="#000" transform="rotate(0.03 90.4 216.6)">Pah Exon 1</text>
<text x="142.6" y="216.6" font-size="8.6" stroke="#000" stroke-width="0.18" text-anchor="middle" fill="#000" transform="rotate(0.03 142.6 216.6)">attB</text>
<text x="196.4" y="216.6" font-size="8.6" stroke="#000" stroke-width="0.18" text-anchor="middle" fill="#000" transform="rotate(0.03 196.4 216.6)">Exon 2</text>
<path d="M134.4,250.6 L149.2,265.4 M149.2,250.6 L134.4,265.4" stroke="#1c1c1c" stroke-width="1.4" fill="none" stroke-linejoin="miter"/>
<text x="20.8" y="256.7" font-size="8.75" stroke="#000" stroke-width="0.18" text-anchor="start" fill="#000" transform="rotate(0.03 20.8 256.7)">Step 2:</text>
<text x="20.8" y="265.9" font-size="8.75" stroke="#000" stroke-width="0.18" text-anchor="start" fill="#000" transform="rotate(0.03 20.8 265.9)">Bxb1-</text>
<text x="20.8" y="276.9" font-size="8.75" stroke="#000" stroke-width="0.18" text-anchor="start" fill="#000" transform="rotate(0.03 20.8 276.9)">mediated</text>
<text x="20.8" y="287.2" font-size="8.75" stroke="#000" stroke-width="0.18" text-anchor="start" fill="#000" transform="rotate(0.03 20.8 287.2)">cargo</text>
<text x="20.8" y="298.6" font-size="8.75" stroke="#000" stroke-width="0.18" text-anchor="start" fill="#000" transform="rotate(0.03 20.8 298.6)">integration</text>
<line x1="95" y1="294.6" x2="194" y2="294.6" stroke="#1c1c1c" stroke-width="1.4" stroke-linecap="butt"/>
<rect x="91.8" y="288" width="3.8" height="13.2" fill="#f6e752" stroke="#3a3a3a" stroke-width="0.9"/>
<rect x="193.8" y="288" width="4" height="13.2" fill="#f6e752" stroke="#3a3a3a" stroke-width="0.9"/>
<path d="M106.6,283.2 L118,294.6 L106.6,306.2 Z" stroke="#1c1c1c" stroke-width="1.1" fill="#e8191f" stroke-linejoin="miter"/>
<path d="M120.2,287.8 H176 V283.0 L187,294.6 L176,306.20000000000005 V301.40000000000003 H120.2 Z" stroke="#1c1c1c" stroke-width="1.1" fill="#6b80c4" stroke-linejoin="miter"/>
<text x="90" y="280" font-size="8.6" stroke="#000" stroke-width="0.18" text-anchor="middle" fill="#000" transform="rotate(0.03 90 280)">ITR</text>
<text x="111.8" y="280" font-size="8.6" stroke="#000" stroke-width="0.18" text-anchor="middle" fill="#000" transform="rotate(0.03 111.8 280)">attP</text>
<text x="151.4" y="280" font-size="8.6" stroke="#000" stroke-width="0.18" text-anchor="middle" fill="#000" transform="rotate(0.03 151.4 280)">Cargo</text>
<text x="199.6" y="280" font-size="8.6" stroke="#000" stroke-width="0.18" text-anchor="middle" fill="#000" transform="rotate(0.03 199.6 280)">ITR</text>
<path d="M143.6,309 V328 M138.0,322 L143.6,328 L149.2,322" stroke="#1c1c1c" stroke-width="1.4" fill="none" stroke-linejoin="miter"/>
<line x1="13" y1="355.3" x2="294" y2="355.3" stroke="#1c1c1c" stroke-width="1.4" stroke-linecap="butt"/>
<path d="M24.6,348.5 H81 V343.5 L92,355.3 L81,367.1 V362.1 H24.6 Z" stroke="#1c1c1c" stroke-width="1.1" fill="#cfc8e2" stroke-linejoin="miter"/>
<path d="M97.6,343.5 L109,355.3 L97.6,367.1 Z" stroke="#1c1c1c" stroke-width="1.1" fill="#e8191f" stroke-linejoin="miter"/>
<path d="M97.6,343.5 L103.2,349.8 V360.8 L97.6,367.1 Z" stroke="#1c1c1c" stroke-width="1.1" fill="#08aaec" stroke-linejoin="miter"/>
<path d="M111.8,348.5 H168 V343.5 L179,355.3 L168,367.1 V362.1 H111.8 Z" stroke="#1c1c1c" stroke-width="1.1" fill="#6b80c4" stroke-linejoin="miter"/>
<path d="M182.8,343.5 L193.8,355.3 L182.8,367.1 Z" stroke="#1c1c1c" stroke-width="1.1" fill="#08aaec" stroke-linejoin="miter"/>
<path d="M182.8,343.5 L188,349.7 V360.90000000000003 L182.8,367.1 Z" stroke="#1c1c1c" stroke-width="1.1" fill="#e8191f" stroke-linejoin="miter"/>
<rect x="199.2" y="349.1" width="5" height="12.4" fill="#f6e752" stroke="#3a3a3a" stroke-width="1.0"/>
<rect x="204.2" y="349.1" width="5" height="12.4" fill="#f6e752" stroke="#3a3a3a" stroke-width="1.0"/>
<path d="M216.6,348.5 H272.4 V343.5 L283.6,355.3 L272.4,367.1 V362.1 H216.6 Z" stroke="#1c1c1c" stroke-width="1.1" fill="#cfc8e2" stroke-linejoin="miter"/>
<text x="58.2" y="339.9" font-size="8.6" stroke="#000" stroke-width="0.18" text-anchor="middle" fill="#000" transform="rotate(0.03 58.2 339.9)">Pah Exon 1</text>
<text x="103" y="339.9" font-size="8.6" stroke="#000" stroke-width="0.18" text-anchor="middle" fill="#000" transform="rotate(0.03 103 339.9)">attL</text>
<text x="146.6" y="339.9" font-size="8.6" stroke="#000" stroke-width="0.18" text-anchor="middle" fill="#000" transform="rotate(0.03 146.6 339.9)">Cargo</text>
<text x="196.4" y="339.9" font-size="8.6" stroke="#000" stroke-width="0.18" text-anchor="middle" fill="#000" transform="rotate(0.03 196.4 339.9)">attR ITR</text>
<text x="251.2" y="339.9" font-size="8.6" stroke="#000" stroke-width="0.18" text-anchor="middle" fill="#000" transform="rotate(0.03 251.2 339.9)">Exon 2</text>
<text x="277.6" y="156" font-size="8.9" font-weight="bold" stroke="#000" stroke-width="0.25" text-anchor="start" fill="#000" transform="rotate(0.03 277.6 156)">PHH HDAD Integration (attL)</text>
<rect x="325.55" y="217.3" width="9.299999999999955" height="46.1" fill="#535353" stroke="#000" stroke-width="1.0"/>
<rect x="340.45" y="213.2" width="9.299999999999955" height="50.2" fill="#535353" stroke="#000" stroke-width="1.0"/>
<rect x="355.35" y="208.6" width="9.299999999999955" height="54.8" fill="#535353" stroke="#000" stroke-width="1.0"/>
<rect x="355.35" y="241.8" width="9.299999999999955" height="21.6" fill="#adadad" stroke="#000" stroke-width="1.0"/>
<rect x="370.25" y="205.1" width="9.299999999999955" height="58.3" fill="#535353" stroke="#000" stroke-width="1.0"/>
<rect x="370.25" y="230.5" width="9.299999999999955" height="32.9" fill="#adadad" stroke="#000" stroke-width="1.0"/>
<line x1="290" y1="168.0" x2="290" y2="264.0" stroke="#000" stroke-width="1.25" stroke-linecap="butt"/>
<line x1="289.4" y1="263.4" x2="384.4" y2="263.4" stroke="#000" stroke-width="1.25" stroke-linecap="butt"/>
<line x1="285.70000000000005" y1="168.6" x2="290" y2="168.6" stroke="#000" stroke-width="1.2" stroke-linecap="butt"/>
<text x="284.90000000000003" y="171.15" font-size="7.2" font-weight="bold" stroke="#000" stroke-width="0.25" text-anchor="end" fill="#000" transform="rotate(0.03 284.90000000000003 171.15)">40</text>
<line x1="285.70000000000005" y1="192.29999999999998" x2="290" y2="192.29999999999998" stroke="#000" stroke-width="1.2" stroke-linecap="butt"/>
<text x="284.90000000000003" y="194.85" font-size="7.2" font-weight="bold" stroke="#000" stroke-width="0.25" text-anchor="end" fill="#000" transform="rotate(0.03 284.90000000000003 194.85)">30</text>
<line x1="285.70000000000005" y1="216.0" x2="290" y2="216.0" stroke="#000" stroke-width="1.2" stroke-linecap="butt"/>
<text x="284.90000000000003" y="218.55" font-size="7.2" font-weight="bold" stroke="#000" stroke-width="0.25" text-anchor="end" fill="#000" transform="rotate(0.03 284.90000000000003 218.55)">20</text>
<line x1="285.70000000000005" y1="239.7" x2="290" y2="239.7" stroke="#000" stroke-width="1.2" stroke-linecap="butt"/>
<text x="284.90000000000003" y="242.25" font-size="7.2" font-weight="bold" stroke="#000" stroke-width="0.25" text-anchor="end" fill="#000" transform="rotate(0.03 284.90000000000003 242.25)">10</text>
<line x1="285.70000000000005" y1="263.4" x2="290" y2="263.4" stroke="#000" stroke-width="1.2" stroke-linecap="butt"/>
<text x="284.90000000000003" y="265.95" font-size="7.2" font-weight="bold" stroke="#000" stroke-width="0.25" text-anchor="end" fill="#000" transform="rotate(0.03 284.90000000000003 265.95)">0</text>
<text x="271.7" y="216.0" font-size="7.2" font-weight="bold" stroke="#000" stroke-width="0.25" text-anchor="middle" fill="#000" transform="rotate(-90 271.7 216.0)">% Edit (ddPCR)</text>
<line x1="300.4" y1="263.4" x2="300.4" y2="267.5" stroke="#000" stroke-width="1.2" stroke-linecap="butt"/>
<text x="302.2" y="273.4" font-size="7.35" font-weight="bold" stroke="#000" stroke-width="0.25" text-anchor="end" fill="#000" transform="rotate(-45 302.2 273.4)">Control</text>
<line x1="315.29999999999995" y1="263.4" x2="315.29999999999995" y2="267.5" stroke="#000" stroke-width="1.2" stroke-linecap="butt"/>
<text x="317.09999999999997" y="273.4" font-size="7.35" font-weight="bold" stroke="#000" stroke-width="0.25" text-anchor="end" fill="#000" transform="rotate(-45 317.09999999999997 273.4)">Cargo + Bxb1 only</text>
<line x1="330.2" y1="263.4" x2="330.2" y2="267.5" stroke="#000" stroke-width="1.2" stroke-linecap="butt"/>
<text x="332.0" y="273.4" font-size="7.35" font-weight="bold" stroke="#000" stroke-width="0.25" text-anchor="end" fill="#000" transform="rotate(-45 332.0 273.4)">Dual PE attB only</text>
<line x1="345.09999999999997" y1="263.4" x2="345.09999999999997" y2="267.5" stroke="#000" stroke-width="1.2" stroke-linecap="butt"/>
<text x="346.9" y="273.4" font-size="7.35" font-weight="bold" stroke="#000" stroke-width="0.25" text-anchor="end" fill="#000" transform="rotate(-45 346.9 273.4)">pL-PGI attB only</text>
<line x1="360.0" y1="263.4" x2="360.0" y2="267.5" stroke="#000" stroke-width="1.2" stroke-linecap="butt"/>
<text x="361.8" y="273.4" font-size="7.35" font-weight="bold" stroke="#000" stroke-width="0.25" text-anchor="end" fill="#000" transform="rotate(-45 361.8 273.4)">Dual PE integration</text>
<line x1="374.9" y1="263.4" x2="374.9" y2="267.5" stroke="#000" stroke-width="1.2" stroke-linecap="butt"/>
<text x="376.7" y="273.4" font-size="7.35" font-weight="bold" stroke="#000" stroke-width="0.25" text-anchor="end" fill="#000" transform="rotate(-45 376.7 273.4)">pL-PGI integration</text>
<rect x="295.24999999999994" y="261.54999999999995" width="3.7" height="3.7" fill="none" stroke="#000" stroke-width="1.1"/>
<rect x="298.54999999999995" y="261.54999999999995" width="3.7" height="3.7" fill="none" stroke="#000" stroke-width="1.1"/>
<rect x="301.84999999999997" y="261.54999999999995" width="3.7" height="3.7" fill="none" stroke="#000" stroke-width="1.1"/>
<rect x="310.15" y="261.54999999999995" width="3.7" height="3.7" fill="none" stroke="#000" stroke-width="1.1"/>
<rect x="313.45" y="261.54999999999995" width="3.7" height="3.7" fill="none" stroke="#000" stroke-width="1.1"/>
<rect x="316.75" y="261.54999999999995" width="3.7" height="3.7" fill="none" stroke="#000" stroke-width="1.1"/>
<circle cx="327.0" cy="263.4" r="1.7" fill="none" stroke="#000" stroke-width="1.1"/>
<circle cx="330.2" cy="263.4" r="1.7" fill="none" stroke="#000" stroke-width="1.1"/>
<circle cx="333.4" cy="263.4" r="1.7" fill="none" stroke="#000" stroke-width="1.1"/>
<rect x="325.45" y="216.45000000000002" width="3.7" height="3.7" fill="none" stroke="#000" stroke-width="1.1"/>
<rect x="328.45" y="213.85" width="3.7" height="3.7" fill="none" stroke="#000" stroke-width="1.1"/>
<rect x="331.54999999999995" y="214.05" width="3.7" height="3.7" fill="none" stroke="#000" stroke-width="1.1"/>
<circle cx="341.90000000000003" cy="263.4" r="1.7" fill="none" stroke="#000" stroke-width="1.1"/>
<circle cx="345.1" cy="263.4" r="1.7" fill="none" stroke="#000" stroke-width="1.1"/>
<circle cx="348.3" cy="263.4" r="1.7" fill="none" stroke="#000" stroke-width="1.1"/>
<rect x="340.45" y="207.35" width="3.7" height="3.7" fill="none" stroke="#000" stroke-width="1.1"/>
<rect x="343.54999999999995" y="215.45000000000002" width="3.7" height="3.7" fill="none" stroke="#000" stroke-width="1.1"/>
<rect x="346.84999999999997" y="209.75" width="3.7" height="3.7" fill="none" stroke="#000" stroke-width="1.1"/>
<circle cx="357.2" cy="239.7" r="1.7" fill="none" stroke="#000" stroke-width="1.1"/>
<circle cx="357.2" cy="244.2" r="1.7" fill="none" stroke="#000" stroke-width="1.1"/>
<circle cx="360.3" cy="241.1" r="1.7" fill="none" stroke="#000" stroke-width="1.1"/>
<circle cx="363.3" cy="241.1" r="1.7" fill="none" stroke="#000" stroke-width="1.1"/>
<rect x="355.34999999999997" y="209.35" width="3.7" height="3.7" fill="none" stroke="#000" stroke-width="1.1"/>
<rect x="358.45" y="203.25" width="3.7" height="3.7" fill="none" stroke="#000" stroke-width="1.1"/>
<rect x="361.45" y="207.75" width="3.7" height="3.7" fill="none" stroke="#000" stroke-width="1.1"/>
<circle cx="372.1" cy="231.6" r="1.7" fill="none" stroke="#000" stroke-width="1.1"/>
<circle cx="375.1" cy="227.9" r="1.7" fill="none" stroke="#000" stroke-width="1.1"/>
<circle cx="378.2" cy="227.9" r="1.7" fill="none" stroke="#000" stroke-width="1.1"/>
<rect x="370.25" y="201.15" width="3.7" height="3.7" fill="none" stroke="#000" stroke-width="1.1"/>
<rect x="373.25" y="209.75" width="3.7" height="3.7" fill="none" stroke="#000" stroke-width="1.1"/>
<rect x="376.34999999999997" y="201.15" width="3.7" height="3.7" fill="none" stroke="#000" stroke-width="1.1"/>
<rect x="306.4" y="164.2" width="10.4" height="5.6" fill="#555" stroke="#000" stroke-width="1.0"/>
<rect x="306.4" y="177.2" width="10.4" height="5.6" fill="#b2b2b2" stroke="#000" stroke-width="1.0"/>
<rect x="309.99999999999994" y="191.79999999999998" width="3.6" height="3.6" fill="#fff" stroke="#000" stroke-width="1.1"/>
<text x="322.5" y="169.3" font-size="7.6" stroke="#000" stroke-width="0.18" text-anchor="start" fill="#000" transform="rotate(0.03 322.5 169.3)">Residual attB</text>
<text x="322.5" y="182.7" font-size="7.6" stroke="#000" stroke-width="0.18" text-anchor="start" fill="#000" transform="rotate(0.03 322.5 182.7)">Integration (attL)</text>
<text x="322.5" y="195.7" font-size="7.6" stroke="#000" stroke-width="0.18" text-anchor="start" fill="#000" transform="rotate(0.03 322.5 195.7)">Total Edit</text>
<text x="411.6" y="156" font-size="8.9" font-weight="bold" stroke="#000" stroke-width="0.25" text-anchor="start" fill="#000" transform="rotate(0.03 411.6 156)">PHH HDAD Integration (attR)</text>
<rect x="459.55" y="217.3" width="9.299999999999955" height="46.1" fill="#535353" stroke="#000" stroke-width="1.0"/>
<rect x="474.45" y="212.6" width="9.299999999999955" height="50.8" fill="#535353" stroke="#000" stroke-width="1.0"/>
<rect x="489.35" y="209.2" width="9.299999999999955" height="54.2" fill="#535353" stroke="#000" stroke-width="1.0"/>
<rect x="489.35" y="242.4" width="9.299999999999955" height="21.0" fill="#adadad" stroke="#000" stroke-width="1.0"/>
<rect x="504.25" y="209.6" width="9.299999999999955" height="53.8" fill="#535353" stroke="#000" stroke-width="1.0"/>
<rect x="504.25" y="233.6" width="9.299999999999955" height="29.8" fill="#adadad" stroke="#000" stroke-width="1.0"/>
<line x1="424" y1="168.0" x2="424" y2="264.0" stroke="#000" stroke-width="1.25" stroke-linecap="butt"/>
<line x1="423.4" y1="263.4" x2="518.4" y2="263.4" stroke="#000" stroke-width="1.25" stroke-linecap="butt"/>
<line x1="419.70000000000005" y1="168.6" x2="424" y2="168.6" stroke="#000" stroke-width="1.2" stroke-linecap="butt"/>
<text x="418.90000000000003" y="171.15" font-size="7.2" font-weight="bold" stroke="#000" stroke-width="0.25" text-anchor="end" fill="#000" transform="rotate(0.03 418.90000000000003 171.15)">40</text>
<line x1="419.70000000000005" y1="192.29999999999998" x2="424" y2="192.29999999999998" stroke="#000" stroke-width="1.2" stroke-linecap="butt"/>
<text x="418.90000000000003" y="194.85" font-size="7.2" font-weight="bold" stroke="#000" stroke-width="0.25" text-anchor="end" fill="#000" transform="rotate(0.03 418.90000000000003 194.85)">30</text>
<line x1="419.70000000000005" y1="216.0" x2="424" y2="216.0" stroke="#000" stroke-width="1.2" stroke-linecap="butt"/>
<text x="418.90000000000003" y="218.55" font-size="7.2" font-weight="bold" stroke="#000" stroke-width="0.25" text-anchor="end" fill="#000" transform="rotate(0.03 418.90000000000003 218.55)">20</text>
<line x1="419.70000000000005" y1="239.7" x2="424" y2="239.7" stroke="#000" stroke-width="1.2" stroke-linecap="butt"/>
<text x="418.90000000000003" y="242.25" font-size="7.2" font-weight="bold" stroke="#000" stroke-width="0.25" text-anchor="end" fill="#000" transform="rotate(0.03 418.90000000000003 242.25)">10</text>
<line x1="419.70000000000005" y1="263.4" x2="424" y2="263.4" stroke="#000" stroke-width="1.2" stroke-linecap="butt"/>
<text x="418.90000000000003" y="265.95" font-size="7.2" font-weight="bold" stroke="#000" stroke-width="0.25" text-anchor="end" fill="#000" transform="rotate(0.03 418.90000000000003 265.95)">0</text>
<text x="405.7" y="216.0" font-size="7.2" font-weight="bold" stroke="#000" stroke-width="0.25" text-anchor="middle" fill="#000" transform="rotate(-90 405.7 216.0)">% Edit (ddPCR)</text>
<line x1="434.4" y1="263.4" x2="434.4" y2="267.5" stroke="#000" stroke-width="1.2" stroke-linecap="butt"/>
<text x="436.2" y="273.4" font-size="7.35" font-weight="bold" stroke="#000" stroke-width="0.25" text-anchor="end" fill="#000" transform="rotate(-45 436.2 273.4)">Control</text>
<line x1="449.29999999999995" y1="263.4" x2="449.29999999999995" y2="267.5" stroke="#000" stroke-width="1.2" stroke-linecap="butt"/>
<text x="451.09999999999997" y="273.4" font-size="7.35" font-weight="bold" stroke="#000" stroke-width="0.25" text-anchor="end" fill="#000" transform="rotate(-45 451.09999999999997 273.4)">Cargo + Bxb1 only</text>
<line x1="464.2" y1="263.4" x2="464.2" y2="267.5" stroke="#000" stroke-width="1.2" stroke-linecap="butt"/>
<text x="466.0" y="273.4" font-size="7.35" font-weight="bold" stroke="#000" stroke-width="0.25" text-anchor="end" fill="#000" transform="rotate(-45 466.0 273.4)">Dual PE attB only</text>
<line x1="479.09999999999997" y1="263.4" x2="479.09999999999997" y2="267.5" stroke="#000" stroke-width="1.2" stroke-linecap="butt"/>
<text x="480.9" y="273.4" font-size="7.35" font-weight="bold" stroke="#000" stroke-width="0.25" text-anchor="end" fill="#000" transform="rotate(-45 480.9 273.4)">pL-PGI attB only</text>
<line x1="494.0" y1="263.4" x2="494.0" y2="267.5" stroke="#000" stroke-width="1.2" stroke-linecap="butt"/>
<text x="495.8" y="273.4" font-size="7.35" font-weight="bold" stroke="#000" stroke-width="0.25" text-anchor="end" fill="#000" transform="rotate(-45 495.8 273.4)">Dual PE integration</text>
<line x1="508.9" y1="263.4" x2="508.9" y2="267.5" stroke="#000" stroke-width="1.2" stroke-linecap="butt"/>
<text x="510.7" y="273.4" font-size="7.35" font-weight="bold" stroke="#000" stroke-width="0.25" text-anchor="end" fill="#000" transform="rotate(-45 510.7 273.4)">pL-PGI integration</text>
<rect x="429.24999999999994" y="261.54999999999995" width="3.7" height="3.7" fill="none" stroke="#000" stroke-width="1.1"/>
<rect x="432.54999999999995" y="261.54999999999995" width="3.7" height="3.7" fill="none" stroke="#000" stroke-width="1.1"/>
<rect x="435.84999999999997" y="261.54999999999995" width="3.7" height="3.7" fill="none" stroke="#000" stroke-width="1.1"/>
<rect x="444.15" y="261.54999999999995" width="3.7" height="3.7" fill="none" stroke="#000" stroke-width="1.1"/>
<rect x="447.45" y="261.54999999999995" width="3.7" height="3.7" fill="none" stroke="#000" stroke-width="1.1"/>
<rect x="450.75" y="261.54999999999995" width="3.7" height="3.7" fill="none" stroke="#000" stroke-width="1.1"/>
<circle cx="461.0" cy="263.4" r="1.7" fill="none" stroke="#000" stroke-width="1.1"/>
<circle cx="464.2" cy="263.4" r="1.7" fill="none" stroke="#000" stroke-width="1.1"/>
<circle cx="467.4" cy="263.4" r="1.7" fill="none" stroke="#000" stroke-width="1.1"/>
<rect x="459.45" y="216.45000000000002" width="3.7" height="3.7" fill="none" stroke="#000" stroke-width="1.1"/>
<rect x="462.45" y="213.85" width="3.7" height="3.7" fill="none" stroke="#000" stroke-width="1.1"/>
<rect x="465.54999999999995" y="213.85" width="3.7" height="3.7" fill="none" stroke="#000" stroke-width="1.1"/>
<circle cx="475.90000000000003" cy="263.4" r="1.7" fill="none" stroke="#000" stroke-width="1.1"/>
<circle cx="479.1" cy="263.4" r="1.7" fill="none" stroke="#000" stroke-width="1.1"/>
<circle cx="482.3" cy="263.4" r="1.7" fill="none" stroke="#000" stroke-width="1.1"/>
<rect x="474.45" y="206.75" width="3.7" height="3.7" fill="none" stroke="#000" stroke-width="1.1"/>
<rect x="477.54999999999995" y="215.45000000000002" width="3.7" height="3.7" fill="none" stroke="#000" stroke-width="1.1"/>
<rect x="480.84999999999997" y="209.35" width="3.7" height="3.7" fill="none" stroke="#000" stroke-width="1.1"/>
<circle cx="491.2" cy="243.8" r="1.7" fill="none" stroke="#000" stroke-width="1.1"/>
<circle cx="494.3" cy="241.3" r="1.7" fill="none" stroke="#000" stroke-width="1.1"/>
<circle cx="497.3" cy="241.3" r="1.7" fill="none" stroke="#000" stroke-width="1.1"/>
<rect x="489.34999999999997" y="204.65" width="3.7" height="3.7" fill="none" stroke="#000" stroke-width="1.1"/>
<rect x="492.45" y="209.35" width="3.7" height="3.7" fill="none" stroke="#000" stroke-width="1.1"/>
<rect x="495.45" y="205.65" width="3.7" height="3.7" fill="none" stroke="#000" stroke-width="1.1"/>
<circle cx="506.1" cy="230.5" r="1.7" fill="none" stroke="#000" stroke-width="1.1"/>
<circle cx="506.1" cy="235.6" r="1.7" fill="none" stroke="#000" stroke-width="1.1"/>
<circle cx="512" cy="232" r="1.7" fill="none" stroke="#000" stroke-width="1.1"/>
<rect x="504.25" y="203.25" width="3.7" height="3.7" fill="none" stroke="#000" stroke-width="1.1"/>
<rect x="507.25" y="214.05" width="3.7" height="3.7" fill="none" stroke="#000" stroke-width="1.1"/>
<rect x="510.35" y="205.25" width="3.7" height="3.7" fill="none" stroke="#000" stroke-width="1.1"/>
<rect x="440.4" y="164.2" width="10.4" height="5.6" fill="#555" stroke="#000" stroke-width="1.0"/>
<rect x="440.4" y="177.2" width="10.4" height="5.6" fill="#b2b2b2" stroke="#000" stroke-width="1.0"/>
<rect x="443.99999999999994" y="191.79999999999998" width="3.6" height="3.6" fill="#fff" stroke="#000" stroke-width="1.1"/>
<text x="456.5" y="169.3" font-size="7.6" stroke="#000" stroke-width="0.18" text-anchor="start" fill="#000" transform="rotate(0.03 456.5 169.3)">Residual attB</text>
<text x="456.5" y="182.7" font-size="7.6" stroke="#000" stroke-width="0.18" text-anchor="start" fill="#000" transform="rotate(0.03 456.5 182.7)">Integration (attR)</text>
<text x="456.5" y="195.7" font-size="7.6" stroke="#000" stroke-width="0.18" text-anchor="start" fill="#000" transform="rotate(0.03 456.5 195.7)">Total Edit</text>
<text x="620.8" y="156" font-size="8.9" font-weight="bold" stroke="#000" stroke-width="0.25" text-anchor="middle" fill="#000" transform="rotate(0.03 620.8 156)">PHH Bxb1 attB Conversion</text>
<rect x="593.9" y="225.4" width="7.0" height="37.7" fill="#d0d0d0" stroke="#000" stroke-width="1.0"/>
<rect x="606.5" y="226.6" width="6.7999999999999545" height="36.5" fill="#fff" stroke="#000" stroke-width="1.0"/>
<rect x="627.7" y="207.5" width="6.899999999999977" height="55.6" fill="#d0d0d0" stroke="#000" stroke-width="1.0"/>
<rect x="640" y="209.6" width="7.100000000000023" height="53.5" fill="#fff" stroke="#000" stroke-width="1.0"/>
<line x1="597.4" y1="223.4" x2="597.4" y2="225.4" stroke="#000" stroke-width="0.9" stroke-linecap="butt"/>
<line x1="595.1999999999999" y1="223.4" x2="599.6" y2="223.4" stroke="#000" stroke-width="0.9" stroke-linecap="butt"/>
<line x1="610" y1="224.8" x2="610" y2="226.6" stroke="#000" stroke-width="0.9" stroke-linecap="butt"/>
<line x1="607.8" y1="224.8" x2="612.2" y2="224.8" stroke="#000" stroke-width="0.9" stroke-linecap="butt"/>
<line x1="631.2" y1="205.6" x2="631.2" y2="207.5" stroke="#000" stroke-width="0.9" stroke-linecap="butt"/>
<line x1="629.0" y1="205.6" x2="633.4000000000001" y2="205.6" stroke="#000" stroke-width="0.9" stroke-linecap="butt"/>
<line x1="643.6" y1="208" x2="643.6" y2="209.6" stroke="#000" stroke-width="0.9" stroke-linecap="butt"/>
<line x1="641.4" y1="208" x2="645.8000000000001" y2="208" stroke="#000" stroke-width="0.9" stroke-linecap="butt"/>
<circle cx="595.2" cy="224.6" r="1.6" fill="none" stroke="#000" stroke-width="1.1"/>
<circle cx="599.6" cy="224.6" r="1.6" fill="none" stroke="#000" stroke-width="1.1"/>
<circle cx="597.3" cy="228.8" r="1.6" fill="none" stroke="#000" stroke-width="1.1"/>
<circle cx="607.1" cy="227.7" r="1.6" fill="none" stroke="#000" stroke-width="1.1"/>
<circle cx="609.9" cy="224.6" r="1.6" fill="none" stroke="#000" stroke-width="1.1"/>
<circle cx="612.6" cy="225.9" r="1.6" fill="none" stroke="#000" stroke-width="1.1"/>
<circle cx="628.8" cy="207.8" r="1.6" fill="none" stroke="#000" stroke-width="1.1"/>
<circle cx="631.1" cy="205" r="1.6" fill="none" stroke="#000" stroke-width="1.1"/>
<circle cx="633.4" cy="207.3" r="1.6" fill="none" stroke="#000" stroke-width="1.1"/>
<circle cx="640.9" cy="210.9" r="1.6" fill="none" stroke="#000" stroke-width="1.1"/>
<circle cx="643.7" cy="208.1" r="1.6" fill="none" stroke="#000" stroke-width="1.1"/>
<circle cx="646.3" cy="208.6" r="1.6" fill="none" stroke="#000" stroke-width="1.1"/>
<line x1="589.4" y1="168.0" x2="589.4" y2="263.70000000000005" stroke="#000" stroke-width="1.25" stroke-linecap="butt"/>
<line x1="588.8" y1="263.1" x2="652" y2="263.1" stroke="#000" stroke-width="1.25" stroke-linecap="butt"/>
<line x1="585.1" y1="168.6" x2="589.4" y2="168.6" stroke="#000" stroke-width="1.2" stroke-linecap="butt"/>
<text x="584.3" y="171.15" font-size="7.2" font-weight="bold" stroke="#000" stroke-width="0.25" text-anchor="end" fill="#000" transform="rotate(0.03 584.3 171.15)">100</text>
<line x1="585.1" y1="187.5" x2="589.4" y2="187.5" stroke="#000" stroke-width="1.2" stroke-linecap="butt"/>
<text x="584.3" y="190.05" font-size="7.2" font-weight="bold" stroke="#000" stroke-width="0.25" text-anchor="end" fill="#000" transform="rotate(0.03 584.3 190.05)">80</text>
<line x1="585.1" y1="206.4" x2="589.4" y2="206.4" stroke="#000" stroke-width="1.2" stroke-linecap="butt"/>
<text x="584.3" y="208.95" font-size="7.2" font-weight="bold" stroke="#000" stroke-width="0.25" text-anchor="end" fill="#000" transform="rotate(0.03 584.3 208.95)">60</text>
<line x1="585.1" y1="225.3" x2="589.4" y2="225.3" stroke="#000" stroke-width="1.2" stroke-linecap="butt"/>
<text x="584.3" y="227.85" font-size="7.2" font-weight="bold" stroke="#000" stroke-width="0.25" text-anchor="end" fill="#000" transform="rotate(0.03 584.3 227.85)">40</text>
<line x1="585.1" y1="244.20000000000002" x2="589.4" y2="244.20000000000002" stroke="#000" stroke-width="1.2" stroke-linecap="butt"/>
<text x="584.3" y="246.75" font-size="7.2" font-weight="bold" stroke="#000" stroke-width="0.25" text-anchor="end" fill="#000" transform="rotate(0.03 584.3 246.75)">20</text>
<line x1="585.1" y1="263.1" x2="589.4" y2="263.1" stroke="#000" stroke-width="1.2" stroke-linecap="butt"/>
<text x="584.3" y="265.65" font-size="7.2" font-weight="bold" stroke="#000" stroke-width="0.25" text-anchor="end" fill="#000" transform="rotate(0.03 584.3 265.65)">0</text>
<text x="566.6" y="215.85000000000002" font-size="7.2" font-weight="bold" stroke="#000" stroke-width="0.25" text-anchor="middle" fill="#000" transform="rotate(-90 566.6 215.85000000000002)">Conversion (%)</text>
<line x1="603.6" y1="263.1" x2="603.6" y2="267.20000000000005" stroke="#000" stroke-width="1.2" stroke-linecap="butt"/>
<text x="603.6" y="275.3" font-size="7.2" font-weight="bold" stroke="#000" stroke-width="0.25" text-anchor="middle" fill="#000" transform="rotate(0.03 603.6 275.3)">Dual PE</text>
<line x1="637.4" y1="263.1" x2="637.4" y2="267.20000000000005" stroke="#000" stroke-width="1.2" stroke-linecap="butt"/>
<text x="637.4" y="275.3" font-size="7.2" font-weight="bold" stroke="#000" stroke-width="0.25" text-anchor="middle" fill="#000" transform="rotate(0.03 637.4 275.3)">pL-PGI</text>
<text x="626.3" y="174.3" font-size="7.5" stroke="#000" stroke-width="0.18" text-anchor="middle" fill="#000" transform="rotate(0.03 626.3 174.3)">p &lt; 0.0001</text>
<text x="613.5" y="191.6" font-size="7.5" stroke="#000" stroke-width="0.18" text-anchor="middle" fill="#000" transform="rotate(0.03 613.5 191.6)">p &lt; 0.0001</text>
<path d="M609.3,183.6 V178.8 H643.4 V183.6" stroke="#000" stroke-width="1.2" fill="none" stroke-linejoin="miter"/>
<path d="M597.2,200.9 V196.3 H630.9 V200.9" stroke="#000" stroke-width="1.2" fill="none" stroke-linejoin="miter"/>
<rect x="650.8" y="172.2" width="10.3" height="5.7" fill="#d0d0d0" stroke="#000" stroke-width="1.0"/>
<rect x="650.8" y="185.5" width="10.3" height="5.7" fill="#fff" stroke="#000" stroke-width="1.0"/>
<text x="666" y="177.6" font-size="7.9" stroke="#000" stroke-width="0.18" text-anchor="start" fill="#000" transform="rotate(0.03 666 177.6)">attL</text>
<text x="666" y="190.6" font-size="7.9" stroke="#000" stroke-width="0.18" text-anchor="start" fill="#000" transform="rotate(0.03 666 190.6)">attR</text>
</svg></body></html>
